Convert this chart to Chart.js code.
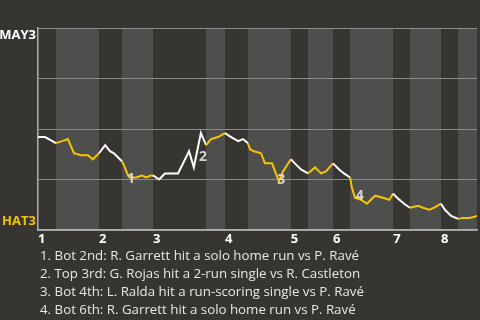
<!DOCTYPE html>
<html>
<head>
<meta charset="utf-8">
<script src="https://cdn.jsdelivr.net/npm/chart.js@4"></script>
<style>
  html, body { margin: 0; padding: 0; background: #363531; }
  body { width: 480px; height: 320px; overflow: hidden; position: relative; font-family: "Open Sans", sans-serif; }
  #wrap { position: absolute; left: 0; top: 0; width: 480px; height: 248px; }
  #notes { position: absolute; left: 40px; top: 246px; color: #e6e6e4; font-size: 13.3px; line-height: 18px; white-space: nowrap; }
</style>
</head>
<body>
<div id="wrap"><canvas id="wpChart"></canvas></div>
<div id="notes"></div>
<script>
// game progress (0-100) vs home win probability for MAY3 (%)
const progress = [0, 1.6, 4.1, 5.5, 6.8, 8.2, 9.8, 11.4, 12.5, 13.9, 15.3, 16.4, 17.3, 19.1, 19.6, 20.5, 20.9,
  22.3, 23.7, 24.6, 25.7, 26.2, 27.6, 28.9, 31.9, 34.4, 35.5, 37.1, 38.3, 39.4, 41.0, 42.6, 44.0, 45.6,
  46.7, 47.8, 48.3, 49.2, 50.8, 51.7, 53.3, 54.0, 54.9, 55.8, 57.6, 58.5, 59.9, 61.5, 63.1, 64.5, 65.6,
  67.2, 68.6, 69.7, 71.1, 71.5, 72.2, 73.6, 74.9, 76.8, 78.6, 80.0, 80.9, 81.8, 83.4, 84.7, 86.6, 87.7,
  89.1, 90.2, 91.8, 92.7, 94.1, 95.7, 96.8, 98.4, 100];
const winProb = [46, 46, 43, 44, 45, 38, 37, 37, 35, 38, 42, 39, 38, 34, 32, 27, 26,
  26, 27, 26, 27, 27, 25, 28, 28, 39, 31, 48, 42, 45, 46, 48, 46, 44,
  45, 43, 40, 39, 38, 33, 33, 29, 24, 29, 35, 33, 30, 28, 31, 28, 29,
  33, 30, 28, 26, 21, 16, 15, 13, 17, 16, 15, 18, 16, 13, 11, 12, 11,
  10, 11, 13, 10, 7, 5.5, 6, 6, 7];

// start of each half inning (top, bottom, top, bottom ...)
const halfStarts = [0, 4.1, 13.9, 19.1, 26.2, 38.3, 42.6, 47.8, 57.6, 61.5, 67.2, 71.1, 80.9, 84.7, 91.8, 95.7];
const innings = ['1', '2', '3', '4', '5', '6', '7', '8'];

const teams = ['MAY3', 'HAT3'];
const teamColors = ['#ffffff', '#f5c400'];

const eventLabels = ['1', '2', '3', '4'];
const eventX = [21.2, 37.6, 55.4, 73.3];
const eventY = [25, 36, 24.5, 17];
const notes = [
  '1. Bot 2nd: R. Garrett hit a solo home run vs P. Ravé',
  '2. Top 3rd: G. Rojas hit a 2-run single vs R. Castleton',
  '3. Bot 4th: L. Ralda hit a run-scoring single vs P. Ravé',
  '4. Bot 6th: R. Garrett hit a solo home run vs P. Ravé'
];

document.getElementById('notes').innerHTML = notes.map(n => `<div>${n}</div>`).join('');

function halfIndex(x) {
  let idx = 0;
  for (let i = 0; i < halfStarts.length; i++) if (x >= halfStarts[i]) idx = i;
  return idx;
}

const bands = {
  id: 'bands',
  beforeDraw(chart) {
    const { ctx, chartArea: a, scales: { x } } = chart;
    ctx.save();
    ctx.fillStyle = '#4e4e4c';
    for (let i = 1; i < halfStarts.length; i += 2) {
      const x0 = x.getPixelForValue(halfStarts[i]);
      const x1 = x.getPixelForValue(i + 1 < halfStarts.length ? halfStarts[i + 1] : x.max);
      ctx.fillRect(x0, a.top, x1 - x0, a.bottom - a.top);
    }
    ctx.restore();
  }
};

const labels = {
  id: 'labels',
  afterDatasetsDraw(chart) {
    const { ctx, scales: { x, y } } = chart;
    ctx.save();
    ctx.font = 'bold 14px "Open Sans", sans-serif';
    ctx.textAlign = 'center';
    ctx.textBaseline = 'middle';
    ctx.fillStyle = 'rgba(225,225,222,0.92)';
    eventLabels.forEach((t, i) => {
      ctx.fillText(t, x.getPixelForValue(eventX[i]), y.getPixelForValue(eventY[i]));
    });
    // team names on the left
    ctx.textAlign = 'right';
    ctx.font = 'bold 13px "Open Sans", sans-serif';
    ctx.fillStyle = teamColors[0];
    ctx.fillText(teams[0], 36, y.getPixelForValue(100) + 7);
    ctx.fillStyle = teamColors[1];
    ctx.fillText(teams[1], 36, y.getPixelForValue(0) - 9);
    ctx.restore();
  }
};

new Chart(document.getElementById('wpChart'), {
  type: 'line',
  data: {
    datasets: [{
      data: progress.map((p, i) => ({ x: p, y: winProb[i] })),
      borderWidth: 2,
      pointRadius: 0,
      tension: 0,
      borderColor: '#ffffff',
      segment: {
        borderColor: c => teamColors[halfIndex((c.p0.parsed.x + c.p1.parsed.x) / 2) % 2]
      }
    }]
  },
  options: {
    animation: false,
    responsive: true,
    maintainAspectRatio: false,
    layout: { padding: { top: 28, right: 3, left: 0, bottom: 0 } },
    plugins: { legend: { display: false }, tooltip: { enabled: false } },
    scales: {
      x: {
        type: 'linear',
        min: 0,
        max: 100,
        afterFit: s => { s.height = 18; },
        afterBuildTicks: s => { s.ticks = innings.map((n, i) => ({ value: halfStarts[i * 2], label: n })); },
        grid: { display: false, drawTicks: false },
        border: { color: '#b0b0ae', width: 1.5 },
        ticks: {
          align: 'start',
          padding: 1,
          color: '#ffffff',
          font: { family: 'Open Sans', size: 13, weight: 'bold' },
          callback: (v, i) => innings[i],
          maxRotation: 0,
          autoSkip: false
        }
      },
      y: {
        min: 0,
        max: 100,
        afterFit: s => { s.width = 38; },
        ticks: { display: false, stepSize: 25 },
        grid: { color: '#8c8c8a', lineWidth: 1, drawTicks: false },
        border: { color: '#b0b0ae', width: 1.5 }
      }
    }
  },
  plugins: [bands, labels]
});
</script>
</body>
</html>
